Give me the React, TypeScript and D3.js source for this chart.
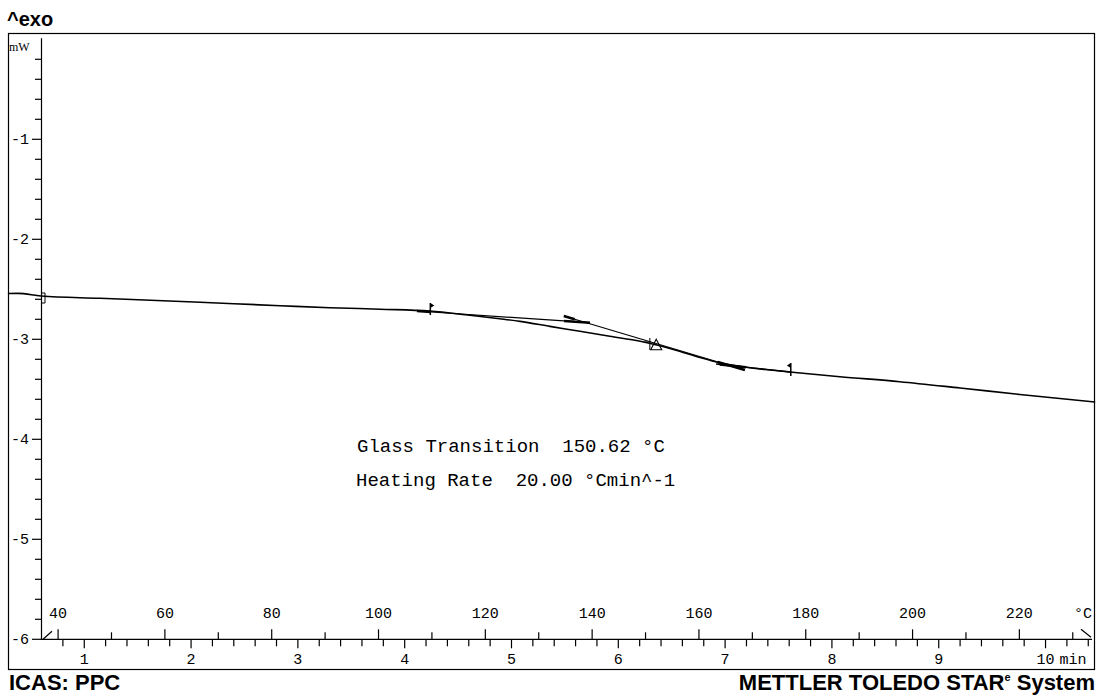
import React from 'react';
import * as d3 from 'd3';

// DSC curve: temperature (°C) vs heat flow (mW)
const curveTemp = [30.6, 32.5, 36.8, 47.8, 66.6, 81.6, 90.9, 100.3, 109.6, 117.1, 122.7, 126.5, 132.1, 137.7, 143.3, 149.0, 152.7, 156.5, 160.2, 163.9, 167.7, 172.4, 177.0, 186.4, 197.6, 208.9, 220.1, 234.2];
const curveHeatFlow = [-2.542, -2.541, -2.567, -2.590, -2.630, -2.664, -2.684, -2.699, -2.717, -2.760, -2.795, -2.821, -2.871, -2.920, -2.970, -3.019, -3.065, -3.122, -3.182, -3.235, -3.272, -3.302, -3.327, -3.374, -3.424, -3.487, -3.552, -3.627];

const tempTickLabels = [40, 60, 80, 100, 120, 140, 160, 180, 200, 220];
const timeTickLabels = [1, 2, 3, 4, 5, 6, 7, 8, 9, 10];
const heatFlowTickLabels = [-1, -2, -3, -4, -5, -6];

const heatingRate = 20; // °C/min
const startTemp = 24.9; // °C at t = 0
const glassTransition = 150.62;
const limitTemps = [109.7, 177.2];
const preBaselineT = [107.2, 139.6];
const preBaselineV = [-2.717, -2.834];
const inflectionT = [134.7, 168.6];
const inflectionV = [-2.767, -3.307];
const postBaselineT = [163.2, 177.2];
const postBaselineV = [-3.247, -3.327];
const midMarkerT = 152.0;
const midMarkerV = -3.06;
const crossV = -3.027;

const mono = '"Liberation Mono", "DejaVu Sans Mono", monospace';
const sans = '"Liberation Sans", Arial, sans-serif';
const serif = '"Liberation Serif", "Times New Roman", serif';

export default function App() {
  const x = d3.scaleLinear().domain([36.8, 233.6]).range([41, 1092]);
  const y = d3.scaleLinear().domain([-6, 0]).range([639.3, 39.3]);
  const xTime = (t: number) => x(startTemp + heatingRate * t);
  const y0 = y(-6);
  const interp = (T: number) => {
    const i = d3.bisectLeft(curveTemp, T);
    const a = Math.max(1, Math.min(curveTemp.length - 1, i));
    const f = (T - curveTemp[a - 1]) / (curveTemp[a] - curveTemp[a - 1]);
    return curveHeatFlow[a - 1] + f * (curveHeatFlow[a] - curveHeatFlow[a - 1]);
  };

  const pts: [number, number][] = curveTemp.map((t, i) => [t, curveHeatFlow[i]]);
  const line = d3.line<[number, number]>().x(d => x(d[0])).y(d => y(d[1])).curve(d3.curveMonotoneX);

  const tempTicks = d3.range(40, 231, 10);
  const timeTicks = d3.range(4, 53).map(i => i / 5);
  const hfTicks = d3.range(-30, 0).map(i => i / 5);

  const segLine = (ts: number[], vs: number[], w: number) => (
    <line x1={x(ts[0])} y1={y(vs[0])} x2={x(ts[1])} y2={y(vs[1])} stroke="#000" strokeWidth={w} />
  );
  const sub = (ts: number[], vs: number[], a: number, b: number) => {
    const tA = ts[0] + (ts[1] - ts[0]) * a, tB = ts[0] + (ts[1] - ts[0]) * b;
    const vA = vs[0] + (vs[1] - vs[0]) * a, vB = vs[0] + (vs[1] - vs[0]) * b;
    return <line x1={x(tA)} y1={y(vA)} x2={x(tB)} y2={y(vB)} stroke="#000" strokeWidth={2.6} />;
  };

  const lx = x(limitTemps[0]), ly = y(interp(limitTemps[0]));
  const rx = x(limitTemps[1]), ry = y(interp(limitTemps[1]));
  const mx = x(midMarkerT), my = y(midMarkerV);
  const cx = x(glassTransition), cy = y(crossV);

  return (
    <svg width={1097} height={697} style={{ position: 'absolute', left: 0, top: 0, background: '#fff' }}>
      <rect x={0} y={0} width={1097} height={697} fill="#fff" />
      {/* frame */}
      <rect x={8.5} y={33.5} width={1086} height={636} fill="none" stroke="#000" strokeWidth={1.2} />
      <text x={7} y={26} fontFamily={sans} fontWeight="bold" fontSize={20}>^exo</text>

      {/* y axis */}
      <line x1={41.5} y1={38.3} x2={41.5} y2={y0} stroke="#000" strokeWidth={1.2} />
      {hfTicks.map(v => {
        const major = Math.abs(v - Math.round(v)) < 1e-6;
        return <line key={'h' + v} x1={major ? 32 : 35} x2={41.5} y1={y(v)} y2={y(v)} stroke="#000" strokeWidth={1.2} />;
      })}
      {heatFlowTickLabels.map(v => (
        <text key={'hl' + v} x={29} y={y(v) + 5} textAnchor="end" fontFamily={mono} fontSize={15}>{String(v)}</text>
      ))}
      <text x={9} y={51} fontFamily={serif} fontSize={12}>mW</text>

      {/* x axis */}
      <line x1={41} y1={y0} x2={1092} y2={y0} stroke="#000" strokeWidth={1.2} />
      <line x1={43} y1={y0} x2={52} y2={y0 - 8} stroke="#000" strokeWidth={1.2} />
      <line x1={1081} y1={y0 - 10} x2={1091} y2={y0 - 2} stroke="#000" strokeWidth={1.2} />
      {tempTicks.map(t => (
        <line key={'t' + t} x1={x(t)} x2={x(t)} y1={y0} y2={y0 - (t % 20 === 0 ? 10 : 7)} stroke="#000" strokeWidth={1.2} />
      ))}
      {tempTickLabels.map(t => (
        <text key={'tl' + t} x={x(t)} y={y0 - 21} textAnchor="middle" fontFamily={mono} fontSize={15}>{t}</text>
      ))}
      <text x={1092} y={y0 - 21} textAnchor="end" fontFamily={mono} fontSize={15}>°C</text>
      {timeTicks.map(t => {
        const major = Math.abs(t - Math.round(t)) < 1e-6;
        return <line key={'m' + t} x1={xTime(t)} x2={xTime(t)} y1={y0} y2={y0 + (major ? 9 : 7)} stroke="#000" strokeWidth={1.2} />;
      })}
      {timeTickLabels.map(t => (
        <text key={'ml' + t} x={xTime(t)} y={664} textAnchor="middle" fontFamily={mono} fontSize={15}>{t}</text>
      ))}
      <text x={xTime(10) + 14} y={664} fontFamily={mono} fontSize={15}>min</text>

      {/* curve */}
      <path d={line(pts) || ''} fill="none" stroke="#000" strokeWidth={1.6} />
      <path d={`M${x(curveTemp[2])},${y(curveHeatFlow[2]) - 3}H${x(curveTemp[2]) + 4}V${y(curveHeatFlow[2]) + 7}H${x(curveTemp[2])}`} fill="none" stroke="#000" strokeWidth={1} />

      {/* evaluation */}
      {segLine(preBaselineT, preBaselineV, 1.2)}
      {sub(preBaselineT, preBaselineV, 0, 0.08)}
      {sub(preBaselineT, preBaselineV, 0.85, 1)}
      {segLine(inflectionT, inflectionV, 1.2)}
      {sub(inflectionT, inflectionV, 0.0, 0.06)}
      {sub(inflectionT, inflectionV, 0.85, 1)}
      {segLine(postBaselineT, postBaselineV, 1.4)}
      {sub(postBaselineT, postBaselineV, 0.05, 0.4)}

      <line x1={lx} x2={lx} y1={ly - 8} y2={ly + 4} stroke="#000" strokeWidth={1.5} />
      <path d={`M${lx},${ly - 8}L${lx + 4},${ly - 5.5}L${lx},${ly - 3}Z`} fill="#000" />
      <line x1={rx} x2={rx} y1={ry - 9} y2={ry + 4} stroke="#000" strokeWidth={1.5} />
      <path d={`M${rx},${ry - 9}L${rx - 4},${ry - 6.5}L${rx},${ry - 4}Z`} fill="#000" />

      <line x1={cx - 5} x2={cx + 2} y1={cy} y2={cy} stroke="#000" strokeWidth={1} />
      <line x1={cx + 1} x2={cx + 1} y1={cy - 4} y2={cy + 8} stroke="#000" strokeWidth={1} />
      <path d={`M${mx},${my - 6}L${mx + 5.5},${my + 4.5}L${mx - 5.5},${my + 4.5}Z`} fill="none" stroke="#000" strokeWidth={1.1} />

      <text x={357} y={452} fontFamily={mono} fontSize={19} style={{ whiteSpace: 'pre' }}>{`Glass Transition  ${glassTransition.toFixed(2)} °C`}</text>
      <text x={356} y={486} fontFamily={mono} fontSize={19} style={{ whiteSpace: 'pre' }}>{`Heating Rate  ${heatingRate.toFixed(2)} °Cmin^-1`}</text>

      <text x={9} y={690} fontFamily={sans} fontWeight="bold" fontSize={22}>ICAS: PPC</text>
      <text x={1095} y={690} textAnchor="end" fontFamily={sans} fontWeight="bold" fontSize={22}>
        METTLER TOLEDO STAR<tspan fontSize={11} dy={-9}>e</tspan><tspan dy={9}> System</tspan>
      </text>
    </svg>
  );
}
